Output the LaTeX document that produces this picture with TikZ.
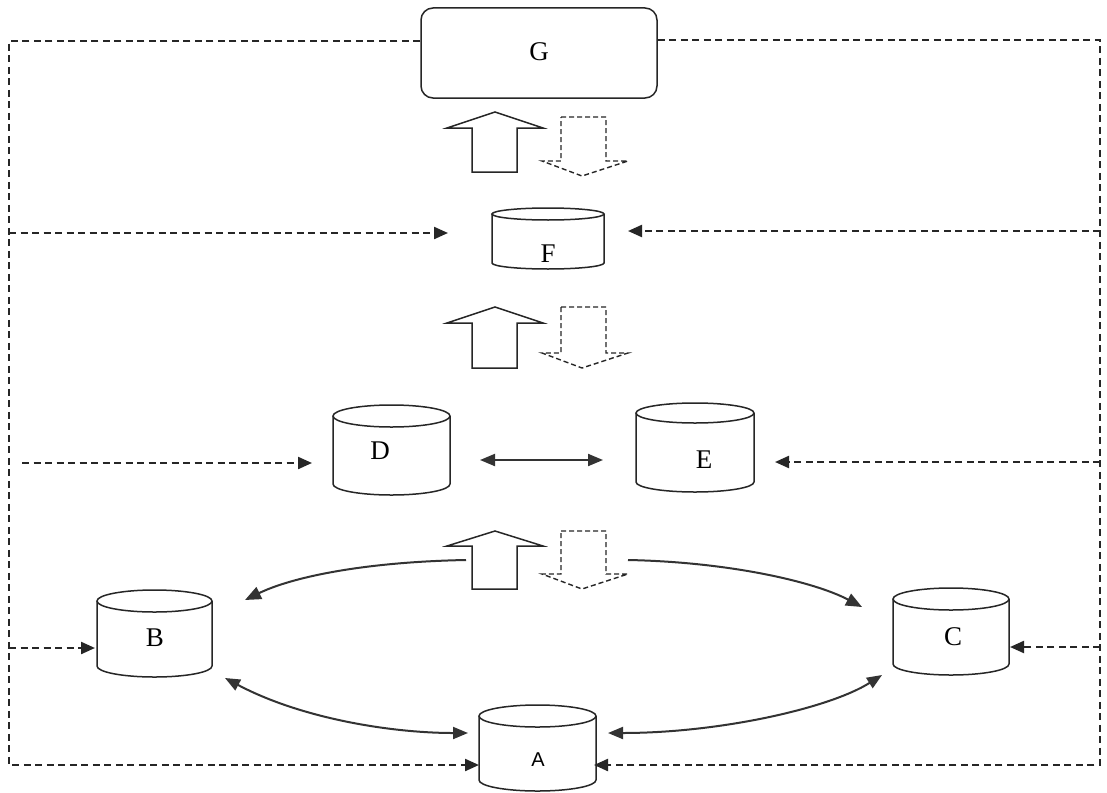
\documentclass[tikz,border=0pt]{standalone}
\usepackage{fontspec}
\setmainfont{Liberation Serif}
\newfontfamily\labelsans{Liberation Sans}
\usetikzlibrary{arrows.meta,calc}
\tikzset{
  ink/.style={draw=black!85, line width=1.5pt},
  dl/.style={draw=black!85, line width=2.2pt, dash pattern=on 7pt off 4.5pt},
  dsh/.style={draw=black!85, line width=1.4pt, dash pattern=on 5pt off 3pt},
  tipd/.style={-{Triangle[length=14pt,width=12pt]}},
  both/.style={{Triangle[length=15pt,width=12pt]}-{Triangle[length=15pt,width=12pt]}},
  onetip/.style={-{Triangle[length=16pt,width=13pt]}},
  curve/.style={draw=black!80, line width=2pt},
  lbl/.style={inner sep=0pt, font=\fontsize{27}{30}\selectfont},
}
\newcommand\drum[6]{%
  \pgfmathsetmacro\dcx{(#2+#3)/2}\pgfmathsetmacro\dcy{(#4+#5)/2}%
  \pgfmathsetmacro\drx{(#3-#2)/2}\pgfmathsetmacro\dw{#3-#2}\pgfmathsetmacro\dh{#5-#4}%
  \pgfmathsetmacro\dt{#4+#6}\pgfmathsetmacro\db{#5-#6}%
  \node[inner sep=0pt,outer sep=0pt,minimum width=\dw pt,minimum height=\dh pt] (#1) at (\dcx,\dcy) {};
  \draw[ink,fill=white] (#2,\dt) -- (#2,\db) arc[start angle=180,end angle=360,x radius=\drx pt,y radius=#6pt] -- (#3,\dt);
  \draw[ink] (\dcx,\dt) ellipse[x radius=\drx pt,y radius=#6pt];
}
\newcommand\uparr[3]{%
  \draw[ink] (495,#1) -- (543,#2) -- (517,#2) -- (517,#3) -- (472,#3) -- (472,#2) -- (447,#2) -- cycle;
}
\newcommand\dnarr[3]{%
  \draw[dsh] (561,#1) -- (606,#1) -- (606,#2) -- (628,#2) -- (582,#3) -- (542,#2) -- (561,#2) -- cycle;
}
\begin{document}
\begin{tikzpicture}[x=1pt,y=-1pt]
\useasboundingbox[fill=white] (0,0) rectangle (1107,792);

% G
\node[ink, rounded corners=12pt, minimum width=236pt, minimum height=90pt, inner sep=0pt] (G) at (539,53) {};
\node[lbl] (Gt) at (539,52) {G};

% cylinders
\drum{F}{492}{604}{208}{269}{6}
\drum{D}{333}{450}{405}{495}{11}
\drum{E}{636}{754}{403}{492}{10}
\drum{B}{97}{212}{590}{677}{11}
\drum{C}{893}{1009}{588}{675}{11}
\drum{A}{479}{596}{705}{791}{11}

\node[lbl] (Ft) at (548,254) {F};
\node[lbl] (Dt) at (380,451) {D};
\node[lbl] (Et) at (704,460) {E};
\node[lbl] (Bt) at (155,638) {B};
\node[lbl] (Ct) at (953,637) {C};
\node[inner sep=0pt, font=\labelsans\fontsize{20}{24}\selectfont] (At) at (538,760) {A};

% block arrows
\uparr{112}{128}{172}
\dnarr{117}{161}{176}
\uparr{307}{323}{368}
\dnarr{307}{353}{368}
\uparr{531}{546}{589}
\dnarr{531}{574}{589}

% outer dashed frame
\coordinate (LT) at (9,41);
\coordinate (LB) at (9,765);
\coordinate (RT) at (1100,40);
\coordinate (RB) at (1100,765);
\draw[dl,tipd] (G.west |- LT) -- (LT) -- (LB) -- (LB -| A.west);
\draw[dl,tipd,shorten >=-2pt] (G.east |- RT) -- (RT) -- (RB) -- (RB -| A.east);

% dashed branches
\coordinate (LF) at (9,233);
\coordinate (RF) at (1100,231);
\coordinate (LD) at (22,463);
\coordinate (RE) at (1100,462);
\coordinate (LBr) at (9,648);
\coordinate (RC) at (1100,647);
\draw[dl,tipd,shorten >=44pt] (LF) -- (LF -| F.west);
\draw[dl,tipd,shorten >=24pt] (RF) -- (RF -| F.east);
\draw[dl,tipd,shorten >=21pt] (LD) -- (LD -| D.west);
\draw[dl,tipd,shorten >=21pt] (RE) -- (RE -| E.east);
\draw[dl,tipd,shorten >=2pt] (LBr) -- (LBr -| B.west);
\draw[dl,tipd,shorten >=1pt] (RC) -- (RC -| C.east);

% D <-> E
\coordinate (de) at (0,460);
\draw[curve,both,shorten <=30pt,shorten >=33pt] (D.east |- de) -- (E.west |- de);

% curved arrows from the lower block arrow
\coordinate (u3l) at (466,560);
\coordinate (u3r) at (628,560);
\draw[curve,onetip] (u3l) .. controls (360,562) and (290,578) .. ($(B.north east)+(33,10)$);
\draw[curve,onetip] (u3r) .. controls (730,562) and (815,582) .. ($(C.north west)+(-31,19)$);

% B <-> A and C <-> A
\draw[curve,both] ($(B.south east)+(13,1)$) .. controls (300,718) and (390,733) .. ($(A.west)+(-11,-15)$);
\draw[curve,both] ($(A.east)+(12,-15)$) .. controls (720,733) and (830,708) .. ($(C.south west)+(-11,0)$);
\end{tikzpicture}
\end{document}
